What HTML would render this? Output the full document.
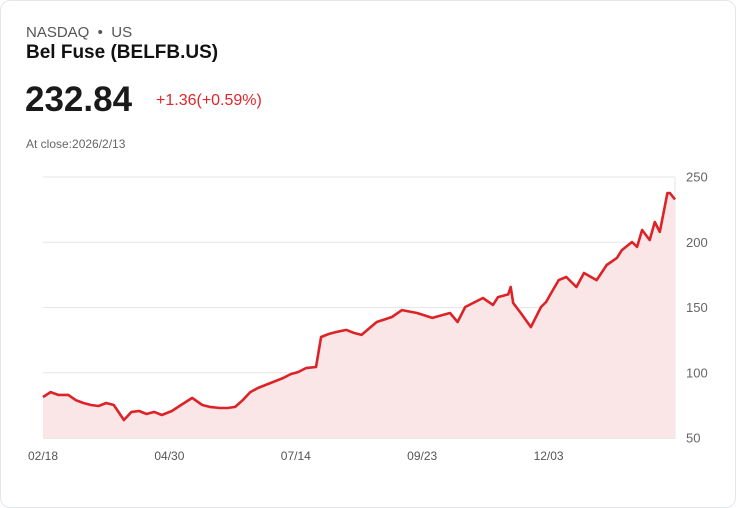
<!DOCTYPE html>
<html><head><meta charset="utf-8">
<style>
body{margin:0;background:#fff;font-family:"Liberation Sans",sans-serif;}
.card{position:absolute;left:0;top:0;width:734px;height:506px;border:1px solid #e3e6ec;border-radius:10px;background:#fff;}
.t{position:absolute;white-space:nowrap;}
</style></head><body>
<div class="card">
<div class="t" style="left:25px;top:23px;font-size:15px;color:#555;">NASDAQ &nbsp;•&nbsp; US</div>
<div class="t" style="left:25px;top:41px;font-size:19px;font-weight:bold;color:#111;">Bel Fuse (BELFB.US)</div>
<div class="t" style="left:24px;top:79px;font-size:35px;font-weight:bold;color:#1a1a1a;">232.84</div>
<div class="t" style="left:155px;top:91px;font-size:16px;color:#e0262b;">+1.36(+0.59%)</div>
<div class="t" style="left:25px;top:136px;font-size:12px;color:#666;">At close:2026/2/13</div>
<svg id="chart" width="736" height="508" style="position:absolute;left:-1px;top:-1px;"></svg>
</div>
<script>
const days=[0,3,6,10,13,16,19,22,25,28,32,35,38,41,44,47,51,54,59,63,66,70,73,76,79,82,85,89,92,95,98,101,104,108,110,113,116,120,123,126,132,138,142,148,154,161,164,167,174,178,180,184,185,186,189,193,197,199,201,204,207,211,214,219,223,227,229,233,235,237,240,242,244,247,248,250];
const prices=[81.4,85.2,83,83,79,76.8,75.3,74.5,76.8,75.3,63.8,70,70.7,68.4,70,67.6,70.7,74.5,80.7,75.3,73.8,73,73,73.8,79,85.2,88.3,91.4,93.7,96,99,100.6,103.6,104.4,127.4,129.7,131.2,132.8,130.5,129,138.9,142.7,148,145.8,142,145.8,138.9,150.4,157.3,152,158,160,165.7,153.4,145.8,135,150.4,154.2,161,171,173.4,165.7,176.4,171,182.6,188,194,200.2,196.4,209.4,201.7,215.5,207.9,237.7,237.7,232.84];
const yTicks=[50,100,150,200,250];
const xTickDays=[0,50,100,150,200];
const xTickLabels=["02/18","04/30","07/14","09/23","12/03"];
const X0=43,X1=675,Y0=438,Y1=177,DMAX=250,VMIN=50,VMAX=250;
const xs=d=>X0+(d/DMAX)*(X1-X0);
const ys=v=>Y0-(v-VMIN)/(VMAX-VMIN)*(Y0-Y1);
const svg=document.getElementById('chart');
const NS="http://www.w3.org/2000/svg";
function mk(tag,attrs){const e=document.createElementNS(NS,tag);for(const k in attrs)e.setAttribute(k,attrs[k]);svg.appendChild(e);return e;}
yTicks.forEach(v=>{
  const l=mk('line',{x1:X0,x2:X1,y1:ys(v),y2:ys(v),stroke:v===VMIN?'#d0d0d0':'#e6e6e6','stroke-width':1});
  
  
  const t=mk('text',{x:686,y:ys(v)+4.5,'font-size':13,fill:'#666','font-family':'Liberation Sans, sans-serif'});
  t.textContent=v;
  
  
});
const vl=mk('line',{x1:X1,x2:X1,y1:Y1,y2:Y0,stroke:'#e6e6e6','stroke-width':1});


xTickDays.forEach((d,i)=>{
  const t=mk('text',{x:xs(d),y:460,'font-size':12,fill:'#555','text-anchor':'middle','font-family':'Liberation Sans, sans-serif'});
  t.textContent=xTickLabels[i];
  
  
});
const n=Math.min(days.length,prices.length);
let d='';
for(let i=0;i<n;i++){d+=(i?' L':'M')+xs(days[i]).toFixed(1)+','+ys(prices[i]).toFixed(1);}
const area=mk('path',{d:d+' L'+xs(days[n-1]).toFixed(1)+','+Y0+' L'+xs(days[0]).toFixed(1)+','+Y0+' Z',fill:'#fbe6e7'});


const line=mk('path',{d:d,fill:'none',stroke:'#dc2328','stroke-width':2.6,'stroke-linejoin':'round'});


</script>
</body></html>
